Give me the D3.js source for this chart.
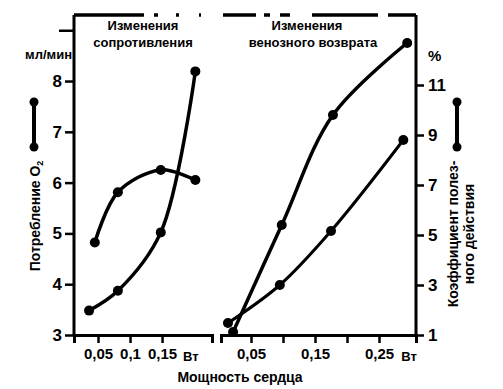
<!DOCTYPE html>
<html><head><meta charset="utf-8">
<script src="https://cdn.jsdelivr.net/npm/d3@7"></script>
<style>
body{margin:0;background:#fff;}
svg text{font-family:"Liberation Sans",Arial,sans-serif;fill:#000;}
</style></head>
<body><svg id="c" width="503" height="389"></svg>
<script>
// ---- data ----
const leftTitle = ["Изменения", "сопротивления"];
const rightTitle = ["Изменения", "венозного возврата"];
const leftXTicks = [0.05, 0.10, 0.15];
const leftXLabels = ["0,05", "0,1", "0,15"];
const rightXTicks = [0.05, 0.10, 0.15, 0.20, 0.25];
const rightXLabels = ["0,05", "", "0,15", "", "0,25"];
const leftYTicks = [3, 4, 5, 6, 7, 8, 9];
const leftYLabels = ["3", "4", "5", "6", "7", "8", ""];
const rightYTicks = [1, 3, 5, 7, 9, 11];
const rightYLabels = ["1", "3", "5", "7", "9", "11"];
// left panel: O2 consumption (мл/мин)
const leftArchX = [0.045, 0.081, 0.148, 0.202];
const leftArchY = [4.82, 5.81, 6.25, 6.05];
const leftRiseX = [0.036, 0.081, 0.148, 0.202];
const leftRiseY = [3.48, 3.87, 5.02, 8.19];
// right panel: efficiency (%)
const rightSteepX = [0.022, 0.098, 0.178, 0.294];
const rightSteepY = [1.12, 5.4, 9.8, 12.68];
const rightLowX = [0.014, 0.095, 0.175, 0.288];
const rightLowY = [1.48, 3.0, 5.16, 8.8];

const svg = d3.select("#c");
const xL = d3.scaleLinear().domain([0.0125, 0.228]).range([74, 212]);
const xR = d3.scaleLinear().domain([0.0031, 0.3078]).range([221, 416]);
const yL = d3.scaleLinear().domain([3, 9.3]).range([335, 15]);
const yR = d3.scaleLinear().domain([1, 13.8]).range([335, 15]);

function styleAxis(g){
  g.select(".domain").attr("stroke","#000").attr("stroke-width",3);
  g.selectAll(".tick line").attr("stroke","#000").attr("stroke-width",2.5);
  g.selectAll(".tick text").attr("font-weight","bold").attr("font-family","'Liberation Sans',Arial,sans-serif").attr("fill","#000");
}
// left x axis
svg.append("g").attr("transform","translate(0,335)")
  .call(d3.axisBottom(xL).tickValues(leftXTicks).tickSizeOuter(0).tickSize(8).tickPadding(5)
  .tickFormat((d,i)=>leftXLabels[i])).call(styleAxis)
  .selectAll(".tick text").attr("font-size",15);
// right x axis
svg.append("g").attr("transform","translate(0,335)")
  .call(d3.axisBottom(xR).tickValues(rightXTicks).tickSizeOuter(0).tickSize(8).tickPadding(5)
  .tickFormat((d,i)=>rightXLabels[i])).call(styleAxis)
  .selectAll(".tick text").attr("font-size",15);
// left y axis
const gyl = svg.append("g").attr("transform","translate(74,0)")
  .call(d3.axisLeft(yL).tickValues(leftYTicks).tickSizeOuter(0).tickSize(9).tickPadding(3)
  .tickFormat((d,i)=>leftYLabels[i])).call(styleAxis);
gyl.selectAll(".tick text").attr("font-size",17);
gyl.select(".domain").attr("d","M0,15V335");
gyl.selectAll(".tick").filter(d=>d===9).select("line").attr("x2",-15);
// right y axis
const gyr = svg.append("g").attr("transform","translate(416,0)")
  .call(d3.axisRight(yR).tickValues(rightYTicks).tickSizeOuter(0).tickSize(8).tickPadding(4)
  .tickFormat((d,i)=>rightYLabels[i])).call(styleAxis);
gyr.selectAll(".tick text").attr("font-size",17);
gyr.select(".domain").attr("d","M0,15V335");

// top frame (broken line)
svg.append("line").attr("x1",74).attr("x2",416).attr("y1",15).attr("y2",15)
  .attr("stroke","#000").attr("stroke-width",3.5)
  .attr("stroke-dasharray","70 10 4 18 3 20 2 22 33 8 6 10 10 22 66 10 28 20");

// units
svg.append("text").attr("x",72).attr("y",59).attr("text-anchor","end")
  .attr("font-size",13).attr("font-weight","bold").text("мл/мин");
svg.append("text").attr("x",428).attr("y",61).attr("font-size",15).attr("font-weight","bold").text("%");
svg.append("text").attr("x",xL(0.195)).attr("y",361).attr("text-anchor","middle").attr("font-size",13).attr("font-weight","bold").text("Вт");
svg.append("text").attr("x",xR(0.297)).attr("y",361).attr("text-anchor","middle").attr("font-size",13).attr("font-weight","bold").text("Вт");
svg.append("text").attr("x",240).attr("y",382).attr("text-anchor","middle").attr("font-size",14).attr("font-weight","bold").text("Мощность сердца");

// titles
leftTitle.forEach((t,i)=>svg.append("text").attr("x",143).attr("y",30+i*17).attr("text-anchor","middle").attr("font-size",13).attr("font-weight","bold").text(t));
rightTitle.forEach((t,i)=>svg.append("text").attr("x",i?313:307).attr("y",30+i*17).attr("text-anchor","middle").attr("font-size",13).attr("font-weight","bold").text(t));

// left y label
const lyl = svg.append("text").attr("transform","translate(40,216) rotate(-90)").attr("text-anchor","middle").attr("font-size",14).attr("font-weight","bold");
lyl.append("tspan").text("Потребление O");
lyl.append("tspan").attr("font-size",9).attr("dy",3).text("2");
// right y label
svg.append("text").attr("transform","translate(458,234) rotate(-90)").attr("text-anchor","middle").attr("font-size",14).attr("font-weight","bold").text("Коэффициент полез-");
svg.append("text").attr("transform","translate(474,234) rotate(-90)").attr("text-anchor","middle").attr("font-size",14).attr("font-weight","bold").text("ного  действия");

// legend samples
function legendSample(x){
  svg.append("line").attr("x1",x).attr("x2",x).attr("y1",102).attr("y2",147).attr("stroke","#000").attr("stroke-width",4);
  [102,147].forEach(y=>svg.append("circle").attr("cx",x).attr("cy",y).attr("r",4.5).attr("fill","#000"));
}
legendSample(34);
legendSample(457);

// series
const curve = d3.line().curve(d3.curveCatmullRom.alpha(0.5));
function series(xs, ys, xs_, ys_, w, r){
  const pts = xs.map((v,i)=>[xs_(v), ys_(ys[i])]);
  svg.append("path").attr("d",curve(pts)).attr("fill","none").attr("stroke","#000").attr("stroke-width",w).attr("stroke-linecap","round");
  pts.forEach(p=>svg.append("circle").attr("cx",p[0]).attr("cy",p[1]).attr("r",r).attr("fill","#000"));
}
series(leftArchX, leftArchY, xL, yL, 3.5, 5);
series(leftRiseX, leftRiseY, xL, yL, 3.5, 5);
series(rightSteepX, rightSteepY, xR, yR, 3.5, 5);
series(rightLowX, rightLowY, xR, yR, 3, 5);
</script></body></html>
